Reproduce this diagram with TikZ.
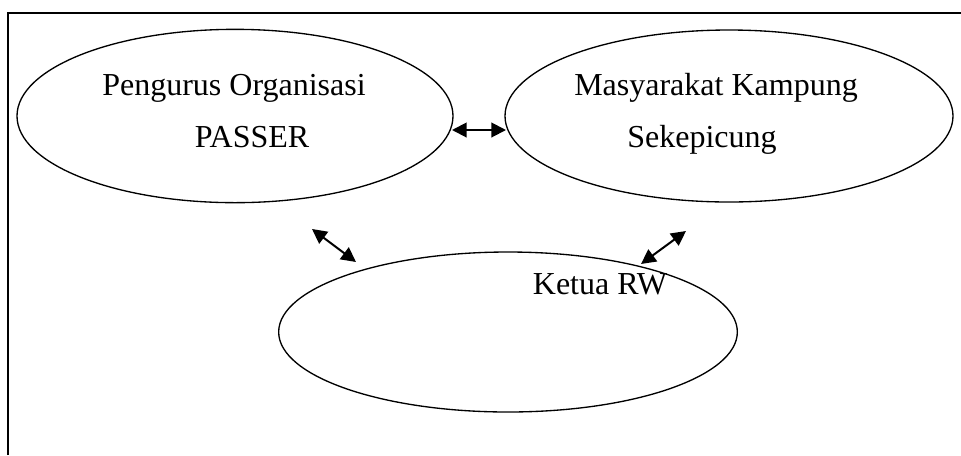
\documentclass[tikz,border=0pt]{standalone}
\usepackage{fontspec}
\setmainfont{Liberation Serif}
\usetikzlibrary{arrows.meta,calc,positioning,shapes}
\tikzset{
        bubble/.style = {draw, ellipse, line width=1pt, inner sep=0pt},
        caption/.style = {anchor=base, inner sep=0pt,
            font=\fontsize{24}{28}\selectfont},
        link/.style = {draw, line width=1.5pt,
            {Triangle[length=11pt,width=11pt]}-{Triangle[length=11pt,width=11pt]}},
        frame/.style = {draw, line width=1.5pt},
    }

\begin{document}
\begin{tikzpicture}[x=0.75pt,y=-0.75pt]
    \useasboundingbox (0,0) rectangle (961,455);
    \draw[frame] (8,455) -- (8,13) -- (961,13);

    \node[bubble, minimum width=327pt, minimum height=130pt] (pengurus) at (235,116) {};
    \node[bubble, minimum width=336pt, minimum height=129pt] (warga) at (729,116) {};
    \node[bubble, minimum width=344pt, minimum height=120pt] (rw) at (508,332) {};

    \node[caption] at ($(pengurus) + (-1,-21)$) (p1) {Pengurus Organisasi};
    \node[caption] at ($(pengurus) + (17,31)$) (p2) {PASSER};
    \node[caption] at ($(warga) + (-13,-21)$) (w1) {Masyarakat Kampung};
    \node[caption] at ($(warga) + (-27,31)$) (w2) {Sekepicung};
    \node[caption] at ($(rw) + (92,-38)$) (r1) {Ketua RW};

    \coordinate (pw) at (452,130);
    \coordinate (wp) at (506,130);
    \coordinate (pr) at (312,229);
    \coordinate (rp) at (356,262);
    \coordinate (wr) at (686,231);
    \coordinate (rw2) at (641,264);

    \draw[link] (pw) -- (wp);
    \draw[link] (pr) -- (rp);
    \draw[link] (wr) -- (rw2);
\end{tikzpicture}
\end{document}
